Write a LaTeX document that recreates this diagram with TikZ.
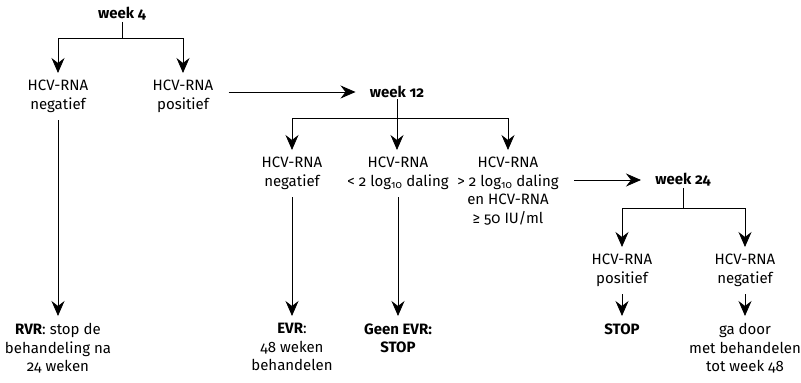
\documentclass[tikz,border=0pt]{standalone}
\usepackage{fontspec}
\setmainfont{Fira Sans}[Numbers=OldStyle]
\usetikzlibrary{arrows.meta}

\begin{document}
\begin{tikzpicture}[x=1pt, y=-1pt, line width=0.8pt,
  arr/.style={-{Stealth[length=15pt,width=13pt,inset=5pt]}},
  harr/.style={arr, shorten <=8pt, shorten >=10pt},
  txt/.style={anchor=north, align=center, inner sep=7pt, font=\fontsize{15}{18.5}\selectfont},
  wk/.style={inner xsep=4pt, inner ysep=1pt, font=\fontsize{15}{18.5}\selectfont\bfseries}]
\useasboundingbox (0,0) rectangle (801,383);

% week 4
\node[wk] (w4) at (122,14) {week 4};
\coordinate (j4) at (122,38);
\node[txt] (neg4) at (58,73) {HCV-RNA\\negatief};
\node[txt] (pos4) at (183,73) {HCV-RNA\\positief};
\node[txt] (rvr) at (58,316) {\textbf{RVR}: stop de\\behandeling na\\24 weken};
\draw (w4) -- (j4);
\draw[arr] (j4) -| (neg4);
\draw[arr] (j4) -| (pos4);
\draw[arr] (neg4) -- (rvr);

% week 12
\node[wk] (w12) at (397,92) {week 12};
\draw[harr] (pos4.east |- w12) -- (w12);
\coordinate (j12) at (397,118);
\node[txt] (neg12) at (292,150) {HCV-RNA\\negatief};
\node[txt] (lt12) at (398,150) {HCV-RNA\\< 2 log\textsubscript{10} daling};
\node[txt] (gt12) at (508,150) {HCV-RNA\\> 2 log\textsubscript{10} daling\\en HCV-RNA\\≥ 50 IU/ml};
\node[txt] (evr) at (292,316) {\textbf{EVR}:\\48 weken\\behandelen};
\node[txt] (geen) at (398,316) {\textbf{Geen EVR:}\\\textbf{STOP}};
\draw (w12) -- (j12);
\draw[arr] (j12) -| (neg12);
\draw[arr] (j12) -- (j12 |- lt12.north);
\draw[arr] (j12) -| (gt12);
\draw[arr] (neg12) -- (evr);
\draw[arr] (lt12) -- (geen);

% week 24
\node[wk] (w24) at (683,180) {week 24};
\draw[harr] (gt12.east |- w24) -- (w24);
\coordinate (j24) at (683,208);
\node[txt] (pos24) at (622,247) {HCV-RNA\\positief};
\node[txt] (neg24) at (745,247) {HCV-RNA\\negatief};
\node[txt] (stop) at (622,316) {\textbf{STOP}};
\node[txt] (door) at (745,316) {ga door\\met behandelen\\tot week 48};
\draw (w24) -- (j24);
\draw[arr] (j24) -| (pos24);
\draw[arr] (j24) -| (neg24);
\draw[arr] (pos24) -- (stop);
\draw[arr] (neg24) -- (door);
\end{tikzpicture}
\end{document}
